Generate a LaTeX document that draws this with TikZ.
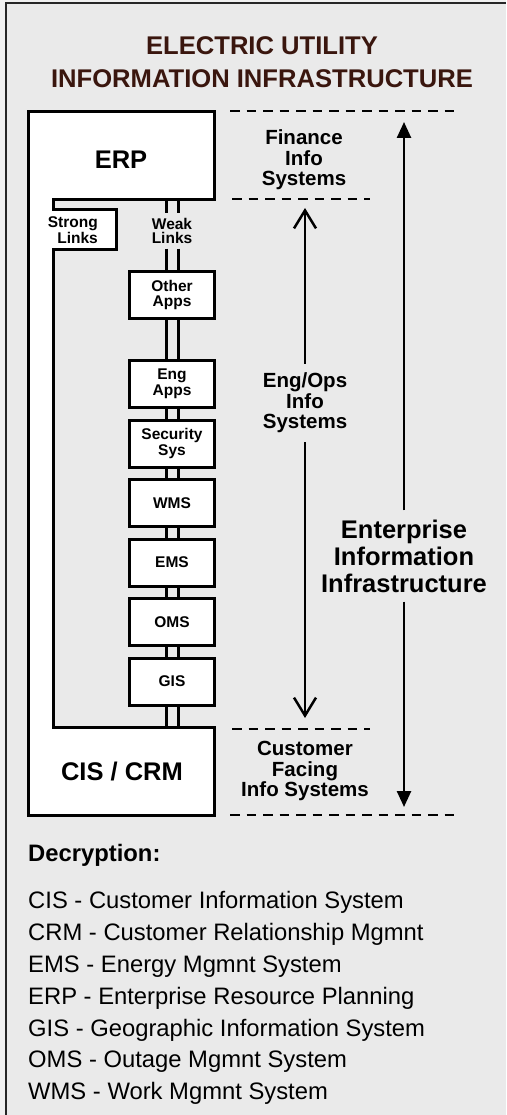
\documentclass[tikz,border=0pt]{standalone}
\usepackage{fontspec}
\setmainfont{Liberation Sans}
\usetikzlibrary{positioning, arrows.meta}
\definecolor{panelgray}{RGB}{234,234,234}
\definecolor{titlebrown}{RGB}{58,22,14}
\newcommand{\weaklink}[2]{%
  \draw[weakline] ([xshift=-6pt]#1) -- ([xshift=-6pt]#2);
  \draw[weakline] ([xshift=6pt]#1) -- ([xshift=6pt]#2);}

\begin{document}
\begin{tikzpicture}[x=1pt, y=-1pt,
    appbox/.style={draw,line width=3pt,fill=white,minimum width=85pt,minimum height=47pt,align=center,font=\fontsize{15.5}{15.5}\selectfont\bfseries},
    weakline/.style={line width=3pt},
    divider/.style={line width=2.5pt,dash pattern=on 9.5pt off 7pt},
    sidelabel/.style={align=center,inner ysep=9pt,font=\fontsize{20.5}{20.5}\selectfont\bfseries},
    biglabel/.style={align=center,font=\fontsize{25.5}{27}\selectfont\bfseries},
    linklabel/.style={align=center,inner sep=0pt,font=\fontsize{15.5}{13.5}\selectfont\bfseries},
    openarrow/.style={line width=2.5pt,-{Straight Barb[length=18pt,width=22pt]}},
    fullarrow/.style={line width=2.5pt,-{Triangle[length=16pt,width=14pt]}},
    legend/.style={anchor=base west,inner sep=0pt,font=\fontsize{23.8}{23.8}\selectfont}]
        \useasboundingbox (0,0) rectangle (506,1115);
        \fill[gray!12] (0,0) rectangle (506,1115);
        \fill[panelgray] (6,3) rectangle (506,1115);
        \draw[line width=2pt, black!85] (6,1115) -- (6,3) -- (506,3);

        \node[align=center, text=titlebrown, font=\fontsize{25.6}{33}\selectfont\bfseries] (title) at (262,62) {ELECTRIC UTILITY\\INFORMATION INFRASTRUCTURE};

        % ERP and CIS/CRM joined by the strong links
        \draw[line width=3pt, fill=white] (28,112) -- (214,112) -- (214,200) -- (53,200) -- (53,210) -- (116,210)
            -- (116,249) -- (53,249) -- (53,727) -- (214,727) -- (214,815) -- (28,815) -- cycle;
        \node[biglabel] (erp) at (121,160) {ERP};
        \node[biglabel] (cis) at (122,772) {CIS / CRM};
        \node[linklabel, align=right, anchor=east] (strong) at (98,230) {Strong\\Links};

        \coordinate (erpport) at (172,200);
        \coordinate (cisport) at (172,727);
        \node[linklabel, minimum height=35pt] (weak) at (172,231) {Weak\\Links};

        \node[appbox] (other) at (172,295) {Other\\Apps};
        \node[appbox, below=39pt of other] (eng) {Eng\\Apps};
        \node[appbox, below=9.5pt of eng] (security) {Security\\Sys};
        \node[appbox, below=9.5pt of security] (wms) {WMS};
        \node[appbox, below=9.5pt of wms] (ems) {EMS};
        \node[appbox, below=9.5pt of ems] (oms) {OMS};
        \node[appbox, below=9.5pt of oms] (gis) {GIS};

        \weaklink{erpport}{weak.north}
        \weaklink{weak.south}{other.north}
        \weaklink{other.south}{eng.north}
        \weaklink{eng.south}{security.north}
        \weaklink{security.south}{wms.north}
        \weaklink{wms.south}{ems.north}
        \weaklink{ems.south}{oms.north}
        \weaklink{oms.south}{gis.north}
        \weaklink{gis.south}{cisport}

        % tiers on the right
        \draw[divider] (230,111) -- (458,111);
        \draw[divider] (232,199) -- (370,199);
        \draw[divider] (232,729) -- (370,729);
        \draw[divider] (230,815) -- (458,815);

        \node[sidelabel] (finance) at (304,160) {Finance\\Info\\Systems};
        \node[sidelabel] (engops) at (305,403) {Eng/Ops\\Info\\Systems};
        \node[sidelabel] (customer) at (305,771) {Customer\\Facing\\Info Systems};

        \coordinate (engtop) at (305,208);
        \coordinate (engbot) at (305,718);
        \draw[openarrow] (engops) -- (engtop);
        \draw[openarrow] (engops) -- (engbot);

        \node[biglabel, inner ysep=9pt] (eii) at (404,556) {Enterprise\\Information\\Infrastructure};
        \coordinate (eiitop) at (404,122);
        \coordinate (eiibot) at (404,807);
        \draw[fullarrow] (eii) -- (eiitop);
        \draw[fullarrow] (eii) -- (eiibot);

        % decryption list
        \node[legend, font=\fontsize{23.8}{23.8}\selectfont\bfseries] (decrypt) at (28,861) {Decryption:};
        \foreach \abbr/\full [count=\i] in {CIS/Customer Information System, CRM/Customer Relationship Mgmnt,
            EMS/Energy Mgmnt System, ERP/Enterprise Resource Planning, GIS/Geographic Information System,
            OMS/Outage Mgmnt System, WMS/Work Mgmnt System}
            \node[legend] (legend\i) at (28,877+31.8*\i) {\abbr{} - \full};
\end{tikzpicture}
\end{document}
